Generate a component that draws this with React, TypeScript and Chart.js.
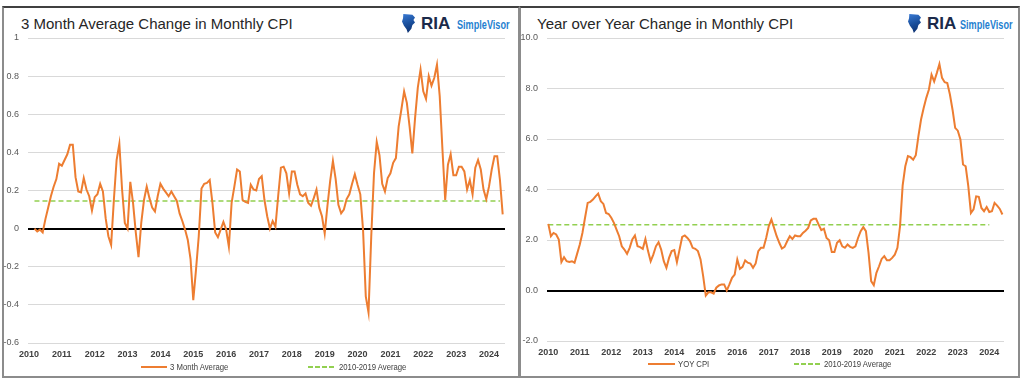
import React, { useEffect, useRef } from "react";
import { Chart, registerables } from "chart.js";

Chart.register(...registerables);

// ---------- DATA ----------
const START_YEAR = 2010;
const YEAR_TICKS = [2010, 2011, 2012, 2013, 2014, 2015, 2016, 2017, 2018, 2019, 2020, 2021, 2022, 2023, 2024];

// 3 month average change in monthly CPI, monthly from Mar 2010 (month index 2) to Jun 2024
const AVG3_START_MONTH = 2;
const avg3Values = [
  0.0, -0.015, -0.005, -0.02, 0.05, 0.11, 0.17, 0.22, 0.26, 0.34,
  0.33, 0.36, 0.39, 0.44, 0.44, 0.27, 0.195, 0.19, 0.265, 0.205, 0.17, 0.095,
  0.165, 0.18, 0.235, 0.195, 0.055, -0.04, -0.085, 0.15, 0.36, 0.445, 0.205, 0.03,
  0.0, 0.245, 0.135, -0.02, -0.15, 0.03, 0.15, 0.22, 0.16, 0.11, 0.09, 0.17,
  0.235, 0.21, 0.19, 0.17, 0.195, 0.17, 0.145, 0.08, 0.04, -0.005, -0.06, -0.16,
  -0.375, -0.215, -0.04, 0.21, 0.235, 0.24, 0.255, 0.135, -0.02, -0.045, -0.005, 0.035,
  -0.005, -0.095, 0.135, 0.22, 0.31, 0.30, 0.15, 0.14, 0.135, 0.23, 0.205, 0.20,
  0.26, 0.275, 0.15, 0.065, 0.0, 0.04, 0.01, 0.17, 0.32, 0.325, 0.29, 0.185,
  0.30, 0.30, 0.23, 0.18, 0.17, 0.185, 0.135, 0.12, 0.16, 0.205, 0.11, 0.065,
  -0.025, 0.12, 0.25, 0.355, 0.26, 0.125, 0.08, 0.10, 0.155, 0.18, 0.235, 0.285,
  0.23, 0.18, -0.005, -0.355, -0.44, -0.04, 0.29, 0.455, 0.385, 0.235, 0.195, 0.265,
  0.29, 0.345, 0.37, 0.535, 0.625, 0.72, 0.66, 0.535, 0.395, 0.58, 0.74, 0.835,
  0.72, 0.68, 0.80, 0.75, 0.79, 0.86, 0.695, 0.415, 0.15, 0.335, 0.39, 0.28,
  0.28, 0.325, 0.325, 0.30, 0.205, 0.255, 0.18, 0.32, 0.36, 0.31, 0.205, 0.155,
  0.22, 0.31, 0.38, 0.38, 0.255, 0.075,
];
const avg3Baseline = 0.145;
const avg3BaselineMonths = [2, 172];
const avg3YTicks = [-0.6, -0.4, -0.2, 0, 0.2, 0.4, 0.6, 0.8, 1];

// Year over year change in monthly CPI, monthly from Jan 2010 to Jun 2024
const YOY_START_MONTH = 0;
const yoyValues = [
  2.64, 2.15, 2.28, 2.22, 2.02, 1.13, 1.32, 1.16, 1.13, 1.16, 1.10, 1.46,
  1.82, 2.28, 2.88, 3.47, 3.51, 3.60, 3.73, 3.84, 3.54, 3.43, 3.07, 3.03,
  2.88, 2.68, 2.41, 2.15, 1.75, 1.62, 1.45, 1.69, 2.02, 2.18, 1.75, 1.72,
  1.65, 2.04, 1.56, 1.16, 1.42, 1.75, 1.91, 1.62, 1.16, 0.90, 1.29, 1.56,
  1.60, 1.12, 1.62, 2.12, 2.18, 2.08, 1.95, 1.69, 1.65, 1.56, 1.23, 0.57,
  -0.20, -0.07, -0.07, -0.12, 0.11, 0.20, 0.24, 0.24, 0.0, 0.24, 0.50, 0.63,
  1.23, 0.86, 0.94, 1.19, 1.10, 1.07, 0.90, 1.07, 1.56, 1.69, 1.69, 2.08,
  2.55, 2.81, 2.48, 2.15, 1.89, 1.66, 1.73, 1.95, 2.15, 2.04, 2.18, 2.15,
  2.15, 2.28, 2.37, 2.48, 2.78, 2.84, 2.84, 2.61, 2.39, 2.45, 2.08, 1.99,
  1.52, 1.52, 1.89, 1.99, 1.75, 1.69, 1.82, 1.73, 1.69, 1.75, 2.08, 2.35,
  2.51, 2.35, 1.49, 0.37, 0.21, 0.70, 0.96, 1.25, 1.36, 1.20, 1.20, 1.29,
  1.42, 1.69, 2.55, 4.16, 4.92, 5.32, 5.28, 5.18, 5.36, 6.11, 6.77, 7.23,
  7.63, 7.96, 8.55, 8.28, 8.61, 8.97, 8.42, 8.25, 8.22, 7.76, 7.16, 6.44,
  6.33, 5.98, 4.99, 4.92, 4.13, 3.07, 3.21, 3.73, 3.71, 3.27, 3.14, 3.31,
  3.11, 3.14, 3.47, 3.36, 3.23, 3.01,
];
const yoyBaseline = 2.6;
const yoyBaselineMonths = [0, 168];
const yoyYTicks = [-2, 0, 2, 4, 6, 8, 10];

// ---------- STYLE ----------
const ORANGE = "#ED7D31";
const GREEN = "#92D050";
const GRID = "#d9d9d9";
const SANS = "'Liberation Sans', Arial, sans-serif";

function toPoints(startMonth: number, values: number[]) {
  return values.map((v, i) => ({ x: START_YEAR + (startMonth + i) / 12, y: v }));
}
function baselinePoints(months: number[], value: number) {
  return months.map((m) => ({ x: START_YEAR + m / 12, y: value }));
}

type ChartProps = {
  left: number;
  width: number;
  height: number;
  xMin: number;
  xMax: number;
  yTicks: number[];
  yFormat: (v: number) => string;
  padRight: number;
  padBottom: number;
  xTickPad: number;
  seriesLabel: string;
  series: { x: number; y: number }[];
  baseline: { x: number; y: number }[];
};

function LineChart(p: ChartProps) {
  const ref = useRef<HTMLCanvasElement>(null);
  useEffect(() => {
    const chart = new Chart(ref.current as HTMLCanvasElement, {
      type: "line",
      data: {
        datasets: [
          {
            label: p.seriesLabel,
            data: p.series,
            borderColor: ORANGE,
            backgroundColor: ORANGE,
            borderWidth: 2,
            pointRadius: 0,
            tension: 0,
          },
          {
            label: "2010-2019 Average",
            data: p.baseline,
            borderColor: GREEN,
            backgroundColor: GREEN,
            borderWidth: 1.5,
            borderDash: [5, 3],
            pointRadius: 0,
            tension: 0,
          },
        ],
      },
      options: {
        responsive: false,
        animation: false,
        events: [],
        layout: { padding: { left: 0, right: p.padRight, top: 38, bottom: p.padBottom } },
        plugins: { legend: { display: false }, tooltip: { enabled: false }, title: { display: false } },
        scales: {
          x: {
            type: "linear",
            min: p.xMin,
            max: p.xMax,
            afterBuildTicks: (s: any) => {
              s.ticks = YEAR_TICKS.map((v) => ({ value: v }));
            },
            afterFit: (s: any) => {
              s.height = 20;
            },
            grid: { display: false, drawTicks: false },
            border: { display: false },
            ticks: {
              autoSkip: false,
              maxRotation: 0,
              padding: p.xTickPad,
              color: "#404040",
              font: { family: SANS, size: 9, weight: "bold" },
              callback: (v: any) => String(v),
            },
          },
          y: {
            type: "linear",
            min: p.yTicks[0],
            max: p.yTicks[p.yTicks.length - 1],
            afterBuildTicks: (s: any) => {
              s.ticks = p.yTicks.map((v) => ({ value: v }));
            },
            afterFit: (s: any) => {
              s.width = 28;
            },
            grid: {
              drawTicks: false,
              color: (c: any) => (c.tick && c.tick.value === 0 ? "#000000" : GRID),
              lineWidth: (c: any) => (c.tick && c.tick.value === 0 ? 2 : 1),
            },
            border: { display: false },
            ticks: {
              padding: 9,
              color: "#595959",
              font: { family: SANS, size: 9 },
              callback: (v: any) => p.yFormat(Number(v)),
            },
          },
        },
      },
    } as any);
    return () => chart.destroy();
  }, []);
  return (
    <canvas
      ref={ref}
      width={p.width}
      height={p.height}
      style={{ position: "absolute", left: p.left, top: 0, width: p.width, height: p.height }}
    />
  );
}

function Logo({ x, riaX, svX }: { x: number; riaX: number; svX: number }) {
  return (
    <>
      <div
        style={{
          position: "absolute",
          left: x,
          top: 14,
          width: 13,
          height: 19,
          background: "linear-gradient(160deg, #3a7bd5 0%, #1a4f9c 50%, #0b2a66 100%)",
          clipPath:
            "polygon(10% 0%, 80% 4%, 100% 18%, 88% 32%, 100% 45%, 80% 58%, 72% 78%, 45% 100%, 35% 80%, 15% 62%, 0% 40%, 8% 22%)",
        }}
      />
      <div
        style={{
          position: "absolute",
          left: riaX,
          top: 15,
          fontFamily: SANS,
          fontWeight: "bold",
          fontSize: 17,
          lineHeight: "17px",
          color: "#1b2a4a",
          whiteSpace: "nowrap",
        }}
      >
        RIA
      </div>
      <div
        style={{
          position: "absolute",
          left: svX,
          top: 19,
          fontFamily: SANS,
          fontWeight: "bold",
          fontSize: 12,
          lineHeight: "12px",
          color: "#1f7fd0",
          whiteSpace: "nowrap",
          transform: "scaleX(0.76)",
          transformOrigin: "0 0",
        }}
      >
        SimpleVisor
      </div>
    </>
  );
}

function LegendItem({ x, y, w, dashed, color, text }: { x: number; y: number; w: number; dashed: boolean; color: string; text: string }) {
  return (
    <>
      <div
        style={{
          position: "absolute",
          left: x,
          top: y - 1,
          width: w,
          height: 2,
          background: dashed
            ? `repeating-linear-gradient(90deg, ${color} 0px, ${color} 5px, transparent 5px, transparent 7px)`
            : color,
        }}
      />
      <div
        style={{
          position: "absolute",
          left: x + w + 3,
          top: y - 5,
          fontFamily: SANS,
          fontSize: 9,
          lineHeight: "10px",
          color: "#404040",
          whiteSpace: "nowrap",
          transform: "scaleX(0.86)",
          transformOrigin: "0 0",
        }}
      >
        {text}
      </div>
    </>
  );
}

function Title({ x, text }: { x: number; text: string }) {
  return (
    <div
      style={{
        position: "absolute",
        left: x,
        top: 15,
        fontFamily: SANS,
        fontSize: 15,
        lineHeight: "18px",
        color: "#262626",
        whiteSpace: "nowrap",
      }}
    >
      {text}
    </div>
  );
}

export default function App() {
  const avg3Series = toPoints(AVG3_START_MONTH, avg3Values);
  const avg3Base = baselinePoints(avg3BaselineMonths, avg3Baseline);
  const yoySeries = toPoints(YOY_START_MONTH, yoyValues);
  const yoyBase = baselinePoints(yoyBaselineMonths, yoyBaseline);

  return (
    <div style={{ position: "absolute", left: 0, top: 0, width: 1024, height: 382, background: "#fff", overflow: "hidden" }}>
      {/* panel frames */}
      <div
        style={{
          position: "absolute",
          left: 2,
          top: 6,
          width: 518,
          height: 372,
          boxSizing: "border-box",
          border: "2px solid #8c8c8c",
          borderTopColor: "#404040",
        }}
      />
      <div
        style={{
          position: "absolute",
          left: 519,
          top: 6,
          width: 501,
          height: 372,
          boxSizing: "border-box",
          border: "2px solid #8c8c8c",
          borderTopColor: "#404040",
        }}
      />

      <Title x={21} text="3 Month Average Change in Monthly CPI" />
      <Title x={537} text="Year over Year Change in Monthly CPI" />
      <Logo x={402} riaX={421} svX={457} />
      <Logo x={908} riaX={927} svX={960} />

      <LineChart
        left={0}
        width={518}
        height={382}
        xMin={2009.97}
        xMax={2024.487}
        yTicks={avg3YTicks}
        yFormat={(v) => String(v)}
        padRight={13}
        padBottom={19}
        xTickPad={6}
        seriesLabel="3 Month Average"
        series={avg3Series}
        baseline={avg3Base}
      />
      <LineChart
        left={519}
        width={505}
        height={382}
        xMin={2009.959}
        xMax={2024.467}
        yTicks={yoyYTicks}
        yFormat={(v) => v.toFixed(1)}
        padRight={20}
        padBottom={21}
        xTickPad={6}
        seriesLabel="YOY CPI"
        series={yoySeries}
        baseline={yoyBase}
      />

      <LegendItem x={141} y={367} w={26} dashed={false} color={ORANGE} text="3 Month Average" />
      <LegendItem x={308} y={367} w={28} dashed={true} color={GREEN} text="2010-2019 Average" />
      <LegendItem x={648} y={364} w={27} dashed={false} color={ORANGE} text="YOY CPI" />
      <LegendItem x={794} y={364} w={27} dashed={true} color={GREEN} text="2010-2019 Average" />
    </div>
  );
}
